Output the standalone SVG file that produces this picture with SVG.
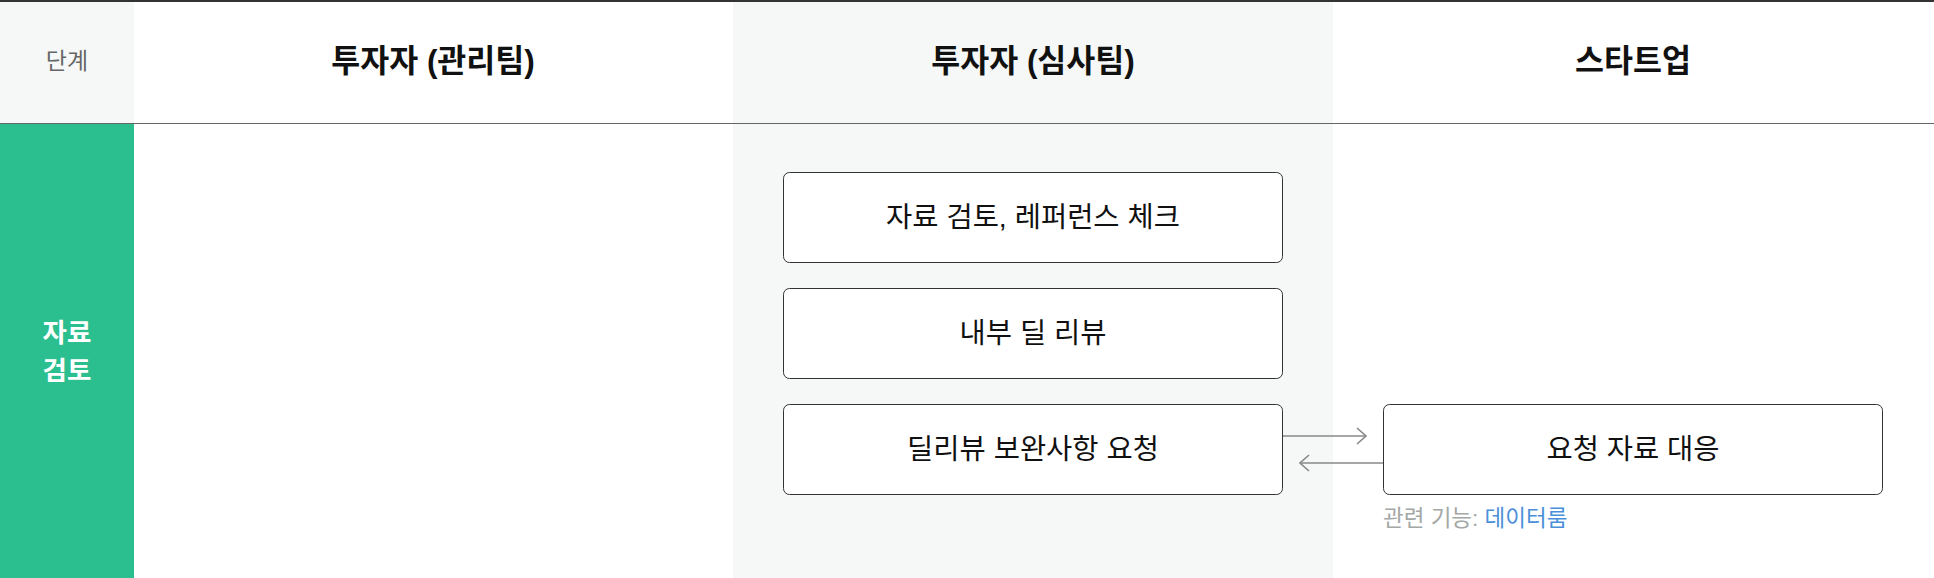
<svg xmlns="http://www.w3.org/2000/svg" width="1934" height="578" viewBox="0 0 1934 578">
  <style>
    text { font-family: "Liberation Sans", "Noto Sans CJK KR", sans-serif; }
    .hdr { font-size: 31.5px; font-weight: bold; fill: #111; text-anchor: middle; dominant-baseline: central; }
    .stagehdr { font-size: 23px; fill: #666; text-anchor: middle; dominant-baseline: central; }
    .stage { font-size: 26.5px; font-weight: bold; fill: #fff; text-anchor: middle; }
    .box { fill: #fff; stroke: #333; stroke-width: 1; }
    .lbl { font-size: 28.5px; fill: #111; text-anchor: middle; dominant-baseline: central; }
    .note { font-size: 22.5px; fill: #a3a8a6; dominant-baseline: central; }
    .link { fill: #4a90d9; }
    .conn { stroke: #888; stroke-width: 1.6; fill: none; }
  </style>
  <defs>
    <marker id="chev" markerUnits="userSpaceOnUse" viewBox="0 0 11 18" refX="10" refY="9" markerWidth="11" markerHeight="18" orient="auto">
      <path d="M1,1 L10,9 L1,17" fill="none" stroke="#888" stroke-width="1.6"/>
    </marker>
  </defs>

  <!-- background -->
  <rect x="0" y="0" width="1934" height="578" fill="#fff"/>
  <rect x="0" y="2" width="134" height="122" fill="#f5f8f7"/>
  <rect x="733" y="2" width="600" height="576" fill="#f5f8f7"/>
  <rect x="0" y="124" width="134" height="454" fill="#2bbf8f"/>
  <rect x="0" y="0" width="1934" height="2" fill="#333"/>
  <line x1="0" y1="123.5" x2="1934" y2="123.5" stroke="#666" stroke-width="1.2"/>

  <!-- headers -->
  <g id="header-stage"><text class="stagehdr" x="67" y="61">단계</text></g>
  <g id="header-mgmt"><text class="hdr" x="433" y="61">투자자 (관리팀)</text></g>
  <g id="header-review"><text class="hdr" x="1033" y="61">투자자 (심사팀)</text></g>
  <g id="header-startup"><text class="hdr" x="1633" y="61">스타트업</text></g>

  <!-- stage label -->
  <g id="stage-review">
    <text class="stage" x="67" y="342">자료</text>
    <text class="stage" x="67" y="380">검토</text>
  </g>

  <!-- nodes -->
  <g id="node-doc-review">
    <rect class="box" x="783.5" y="172.5" width="499" height="90" rx="6"/>
    <text class="lbl" x="1033" y="217">자료 검토, 레퍼런스 체크</text>
  </g>
  <g id="node-internal-review">
    <rect class="box" x="783.5" y="288.5" width="499" height="90" rx="6"/>
    <text class="lbl" x="1033" y="333">내부 딜 리뷰</text>
  </g>
  <g id="node-request">
    <rect class="box" x="783.5" y="404.5" width="499" height="90" rx="6"/>
    <text class="lbl" x="1033" y="449">딜리뷰 보완사항 요청</text>
  </g>
  <g id="node-response">
    <rect class="box" x="1383.5" y="404.5" width="499" height="90" rx="6"/>
    <text class="lbl" x="1633" y="449">요청 자료 대응</text>
    <text class="note" x="1383" y="518">관련 기능: <tspan class="link">데이터룸</tspan></text>
  </g>

  <!-- connectors -->
  <g id="connectors">
    <line class="conn" x1="1283" y1="436" x2="1366" y2="436" marker-end="url(#chev)"/>
    <line class="conn" x1="1383" y1="463" x2="1300" y2="463" marker-end="url(#chev)"/>
  </g>
</svg>
